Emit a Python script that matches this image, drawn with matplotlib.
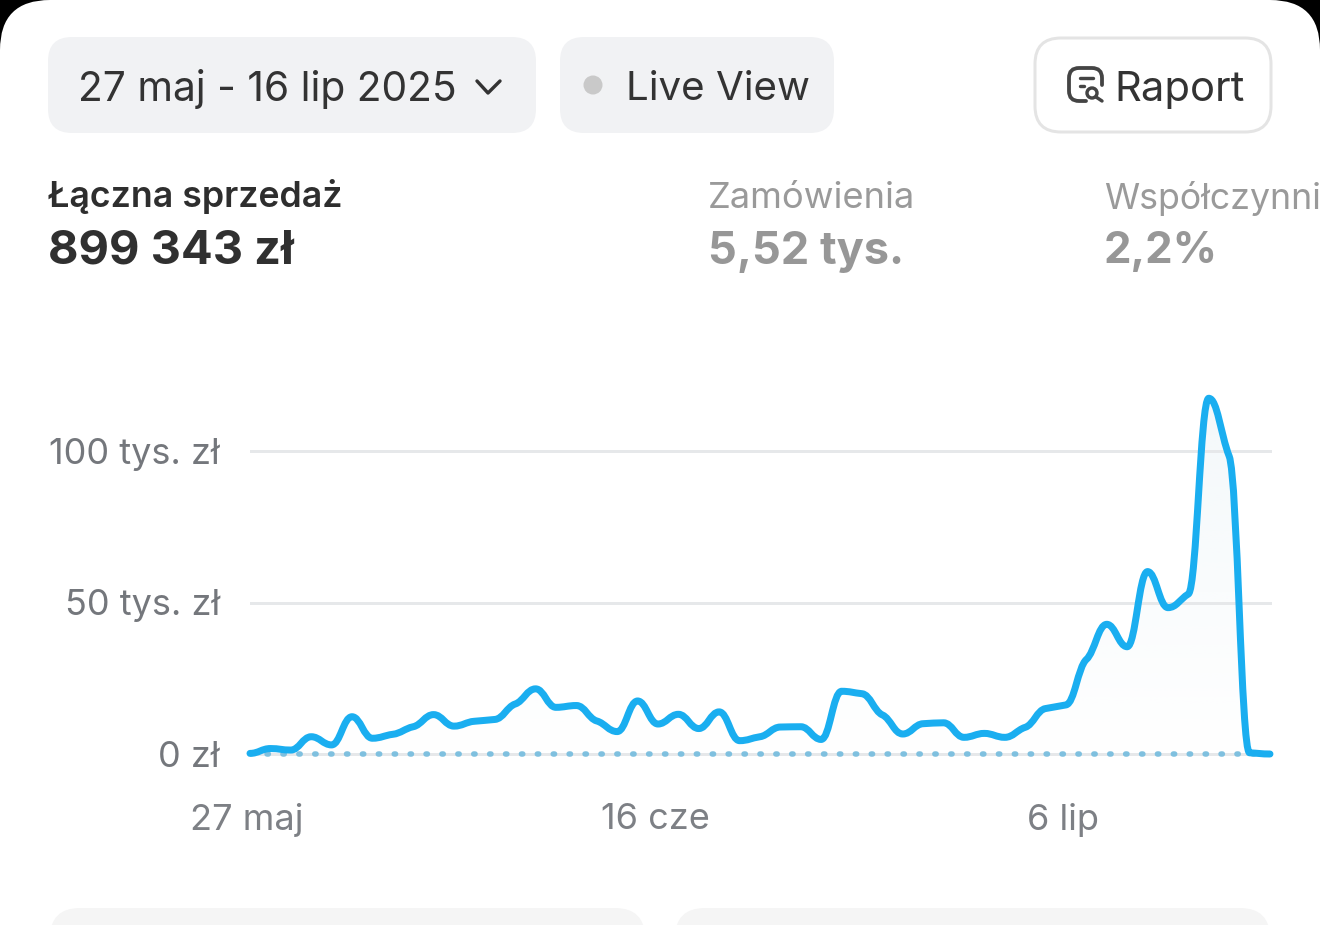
import numpy as np
import matplotlib
matplotlib.use("Agg")
import matplotlib.pyplot as plt
from matplotlib.patches import FancyBboxPatch, PathPatch, Circle
from matplotlib.path import Path
from matplotlib.transforms import ScaledTranslation

plt.rcParams['font.family'] = ['Inter', 'DejaVu Sans']

# sales per day in thousands of zl, 27 maj - 16 lip
sales = [0.2, 1.8, 1.3, 5.7, 3.0, 12.3, 5.2, 6.5, 9.0, 13.0,
         9.2, 10.8, 11.4, 16.5, 21.5, 15.4, 16.0, 10.9, 7.4, 17.5,
         9.9, 13.1, 8.4, 13.9, 4.4, 5.7, 8.9, 9.0, 4.8, 20.7,
         19.9, 12.9, 6.6, 10.0, 10.3, 5.5, 6.8, 5.5, 8.8, 15.0,
         16.2, 31.2, 42.8, 35.4, 60.2, 48.3, 52.8, 117.4, 98.3, 0.4, 0.0]
y_ticks = [0, 50, 100]
y_labels = ["0 zł", "50 tys. zł", "100 tys. zł"]
x_ticks = [0, 20, 40]
x_labels = ["27 maj", "16 cze", "6 lip"]

W, H = 1320, 925
LINE = '#1aaef0'


def px(n):
    # screen pixels to points
    return n * 0.72


def smooth_path(vals, close=False):
    """Bezier segments through the daily values, nearly flat at each day."""
    y = np.array(vals, dtype=float)
    s = np.diff(y)
    m = np.zeros(len(y))
    for i in range(1, len(y) - 1):
        p = (s[i - 1] + s[i]) / 2
        m[i] = (np.sign(s[i - 1]) + np.sign(s[i])) * min(abs(s[i - 1]), abs(s[i]), 0.5 * abs(p))
    m *= 0.45
    dx = 0.42

    verts = [(0, y[0])]
    codes = [Path.MOVETO]
    for i in range(len(y) - 1):
        verts += [(i + dx, y[i] + m[i] * dx), (i + 1 - dx, y[i + 1] - m[i + 1] * dx), (i + 1, y[i + 1])]
        codes += [Path.CURVE4] * 3
    if close:
        verts += [(len(y) - 1, 0), (0, 0), (0, y[0])]
        codes += [Path.LINETO, Path.LINETO, Path.CLOSEPOLY]
    return Path(verts, codes)


def pill(ui, x0, y0, x1, y1, r, face, edge='none', lw=0):
    ui.add_patch(FancyBboxPatch((x0 + r, y0 + r), x1 - x0 - 2 * r, y1 - y0 - 2 * r,
                                boxstyle=f"round,pad={r},rounding_size={r}",
                                fc=face, ec=edge, lw=lw))


fig = plt.figure(figsize=(W / 100, H / 100), dpi=100, facecolor='black')

# everything around the chart is placed in screen pixels
ui = fig.add_axes([0, 0, 1, 1])
ui.set_xlim(0, W)
ui.set_ylim(H, 0)
ui.axis('off')

pill(ui, 0, 0, W, H + 100, 50, 'white')
pill(ui, 48, 37, 536, 133, 24, '#f1f2f4')
pill(ui, 560, 37, 834, 133, 24, '#f1f2f4')
pill(ui, 1035, 38, 1271, 132, 26, 'white', '#e4e4e4', px(3))
pill(ui, 50, 908, 645, 1000, 30, '#f5f5f5')
pill(ui, 675, 908, 1270, 1000, 30, '#f5f5f5')

ui.text(78, 89, "27 maj - 16 lip 2025", fontsize=29.3, color='#333333', va='center')
ui.plot([477, 488, 500], [81, 93, 81], color='#333333', lw=px(3.4), solid_capstyle='round', solid_joinstyle='round')
ui.add_patch(Circle((593, 85), 9.5, fc='#c9c9c9', ec='none'))
ui.text(626, 89, "Live View", fontsize=29, color='#333333', va='center')
ui.text(1114, 90, "Raport", fontsize=30, color='#333333', va='center')

# report icon
icon = Path([(1102, 85), (1102, 78), (1102, 68), (1092, 68), (1079, 68), (1069, 68), (1069, 78),
             (1069, 91), (1069, 101), (1079, 101), (1086, 101)],
            [Path.MOVETO, Path.LINETO, Path.CURVE3, Path.CURVE3, Path.LINETO, Path.CURVE3, Path.CURVE3,
             Path.LINETO, Path.CURVE3, Path.CURVE3, Path.LINETO])
ui.add_patch(PathPatch(icon, fc='none', ec='#444444', lw=px(3.8), capstyle='round'))
ui.plot([1080, 1093], [78, 78], color='#444444', lw=px(3.4), solid_capstyle='round')
ui.plot([1080, 1084], [86, 86], color='#444444', lw=px(3.4), solid_capstyle='round')
ui.add_patch(Circle((1092, 93), 5, fc='none', ec='#444444', lw=px(3.4)))
ui.plot([1096, 1102], [97, 101], color='#444444', lw=px(3.4), solid_capstyle='round')

ui.text(48, 197, "Łączna sprzedaż", fontsize=25.7, fontweight='semibold', color='#2e2e2e', va='center')
ui.text(48, 252, "899 343 zł", fontsize=33.8, fontweight='bold', color='#303030', va='center')
ui.text(708, 198, "Zamówienia", fontsize=26.2, color='#9a9a9a', va='center')
ui.text(708, 252, "5,52 tys.", fontsize=32.5, fontweight='bold', color='#979797', va='center')
ui.text(1104, 198, "Współczynni", fontsize=25.7, color='#9a9a9a', va='center')
ui.text(1104, 252, "2,2%", fontsize=31.5, fontweight='bold', color='#979797', va='center')

# chart: day 0 at x=250, 0 at y=754, 100k at y=451
top, bottom = 380, 770
ax = fig.add_axes([250 / W, 1 - bottom / H, 1022 / W, (bottom - top) / H])
ax.patch.set_alpha(0)
for side in ax.spines.values():
    side.set_visible(False)

ylim = ((754 - bottom) / 3.03, (754 - top) / 3.03)

# faint fill under the line
grad = np.ones((200, 2, 4))
grad[..., :3] = matplotlib.colors.to_rgb('#e6f0f5')
grad[..., 3] = np.linspace(0.45, 0, 200)[:, None]
img = ax.imshow(grad, extent=(0, 50, 0, max(sales)), origin='upper', aspect='auto', zorder=1)
img.set_clip_path(PathPatch(smooth_path(sales, close=True), transform=ax.transData))

ax.set_xlim(0, 50.1)
ax.set_ylim(*ylim)
ax.set_yticks(y_ticks, y_labels)
ax.set_xticks(x_ticks, x_labels)
ax.grid(True, axis='y', color='#e6e8ea', lw=px(3), zorder=0)
ax.tick_params(axis='both', length=0)
ax.tick_params(axis='y', labelsize=26, labelcolor='#74777c', pad=px(30))
ax.tick_params(axis='x', labelsize=26, labelcolor='#7d8085', pad=px(33))
for lab in ax.get_xticklabels():
    lab.set_transform(lab.get_transform() + ScaledTranslation(-3 / 100, 0, fig.dpi_scale_trans))

# dotted zero line
ax.axhline(0, color='#dcdee0', lw=px(3), zorder=1.5)
ax.plot([0.82, 50], [0, 0], color='#7fc0df', lw=px(5.5), zorder=2,
        linestyle=(0, (1.4 / 5.5, 14.5 / 5.5)), dash_capstyle='round')

ax.add_patch(PathPatch(smooth_path(sales), fc='none', ec=LINE, lw=px(7), zorder=3,
                       capstyle='round', joinstyle='round', clip_on=False))

fig.savefig("out.png", dpi=100, facecolor='black')
